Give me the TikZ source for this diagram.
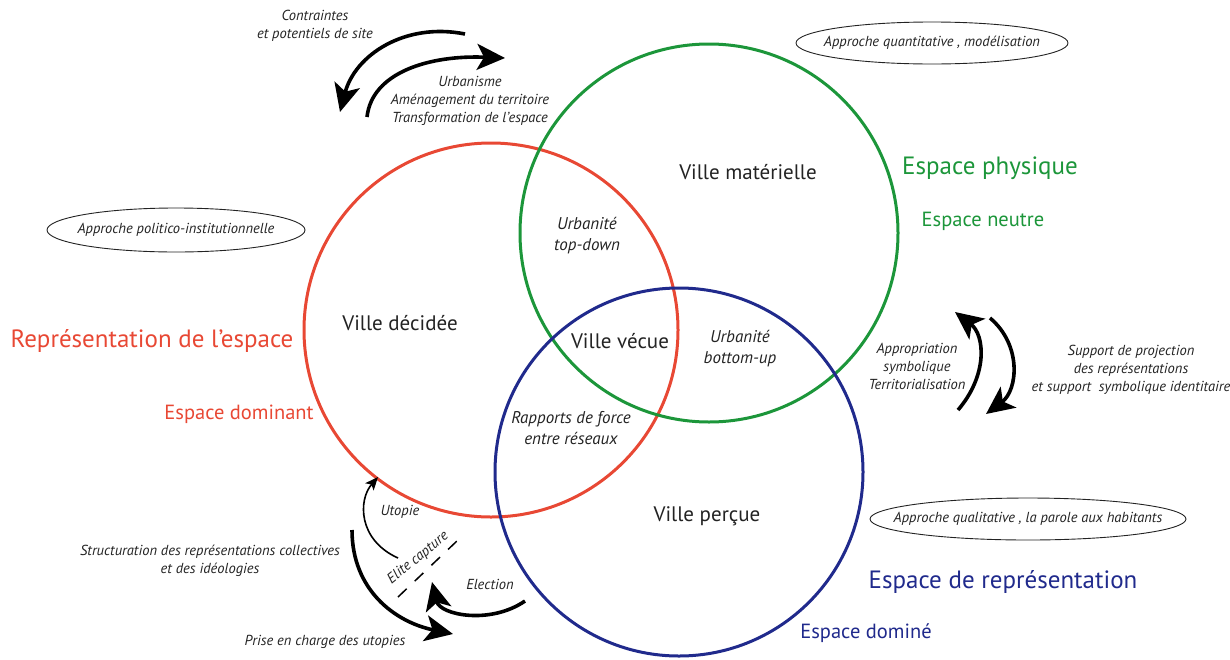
\documentclass[tikz,border=0pt]{standalone}
\usepackage{fontspec}
\setmainfont{PT Sans}
\usetikzlibrary{arrows.meta,positioning,shapes.geometric}
\definecolor{VilleRed}  {RGB}{232,72,52}
\definecolor{VilleGreen}{RGB}{28,150,58}
\definecolor{VilleBlue} {RGB}{32,42,140}
\definecolor{TexteGris} {RGB}{35,35,35}

\begin{document}
\begin{tikzpicture}[x=1pt,y=-1pt,
  cercle/.style={line width=3pt},
  ville/.style={font=\fontsize{21}{24}\selectfont,text=TexteGris},
  inter/.style={font=\itshape\fontsize{17}{21}\selectfont,align=center,text=TexteGris},
  espace/.style={font=\fontsize{25}{29}\selectfont},
  sousesp/.style={font=\fontsize{20.5}{24}\selectfont},
  petit/.style={font=\itshape\fontsize{14.5}{18}\selectfont,align=center,text=TexteGris},
  approche/.style={draw=TexteGris,ellipse,line width=0.9pt,minimum height=42},
  approchetexte/.style={font=\itshape\fontsize{14.5}{17}\selectfont,text=TexteGris},
  fleche/.style={-{Stealth[length=28pt,width=26pt,inset=7pt]},line width=3.6pt},
  finefleche/.style={-{Stealth[length=13pt,width=11pt,inset=3pt]},line width=1.6pt}]
  \useasboundingbox (0,0) rectangle (1230,659);
  % les trois villes
  \draw[cercle,VilleRed]   (491,330) circle (187);
  \draw[cercle,VilleGreen] (709,233) circle (189);
  \draw[cercle,VilleBlue]  (679,472) circle (184);
  \node[ville](mat) at (748,172) {Ville matérielle};
  \node[ville](dec) at (400,323) {Ville décidée};
  \node[ville](vec) at (620,341) {Ville vécue};
  \node[ville](per) at (707,516) {Ville perçue};
  \node[inter](top) at (587,236) {Urbanité\\top-down};
  \node[inter](bot) at (740,349) {Urbanité\\bottom-up};
  \node[inter](rap) at (571,428) {Rapports de force\\entre réseaux};
  % espaces
  \node[espace,VilleGreen](phy) at (990,168) {Espace physique};
  \node[sousesp,VilleGreen](neu) at (983,221) {Espace neutre};
  \node[espace,VilleRed](repe) at (152,341) {Représentation de l'espace};
  \node[sousesp,VilleRed](dom) at (239,414) {Espace dominant};
  \node[espace,VilleBlue](rep) at (1003,582) {Espace de représentation};
  \node[sousesp,VilleBlue](domi) at (866,633) {Espace dominé};
  % approches
  \node[approche,minimum width=272,
        label={[approchetexte]center:Approche quantitative , modélisation}](quant) at (932,43) {};
  \node[approche,minimum width=258,minimum height=44,
        label={[approchetexte]center:Approche politico-institutionnelle}](poli) at (176,230) {};
  \node[approche,minimum width=316,
        label={[approchetexte]center:Approche qualitative , la parole aux habitants}](qual) at (1028,519) {};
  % haut gauche
  \node[petit](site) at (315,26) {Contraintes\\et potentiels de site};
  \node[petit](urba) at (470,101) {Urbanisme\\Aménagement du territoire\\Transformation de l'espace};
  \coordinate (siteA) at (465,34);  \coordinate (siteB) at (340,112);
  \coordinate (urbaA) at (367,117); \coordinate (urbaB) at (505,58);
  \draw[fleche](siteA) .. controls (405,22) and (355,55) .. (siteB);
  \draw[fleche](urbaA) .. controls (372,72) and (430,55) .. (urbaB);
  % droite
  \node[petit](appr) at (917,366) {Appropriation\\symbolique\\Territorialisation};
  \node[petit](supp) at (1131,370) {Support de projection\\des représentations\\et support\ \ symbolique identitaire};
  \coordinate (apprA) at (958,410); \coordinate (apprB) at (955,312);
  \coordinate (suppA) at (990,318); \coordinate (suppB) at (986,414);
  \draw[fleche](apprA) .. controls (988,375) and (985,335) .. (apprB);
  \draw[fleche](suppA) .. controls (1022,345) and (1018,390) .. (suppB);
  % bas gauche
  \node[petit](stru) at (210,561) {Structuration des représentations collectives\\et des idéologies};
  \node[petit](pris) at (325,642) {Prise en charge des utopies};
  \node[petit](uto) at (400,512) {Utopie};
  \node[petit](elec) at (490,584) {Election};
  \coordinate (struA) at (352,530); \coordinate (struB) at (453,634);
  \coordinate (elecA) at (525,601); \coordinate (elecB) at (432,582);
  \coordinate (utoA) at (398,558);  \coordinate (utoB) at (378,477);
  \coordinate (eliA) at (398,597);  \coordinate (eliB) at (458,540);
  \draw[fleche](struA) .. controls (352,590) and (395,622) .. (struB);
  \draw[fleche](elecA) .. controls (490,625) and (440,615) .. (elecB);
  \draw[finefleche](utoA) .. controls (358,540) and (358,500) .. (utoB);
  \draw[line width=1.5pt,dash pattern=on 12pt off 11pt](eliA) -- (eliB);
  \node[petit,rotate=39](eli) at (418,558) {Elite capture};
\end{tikzpicture}
\end{document}
